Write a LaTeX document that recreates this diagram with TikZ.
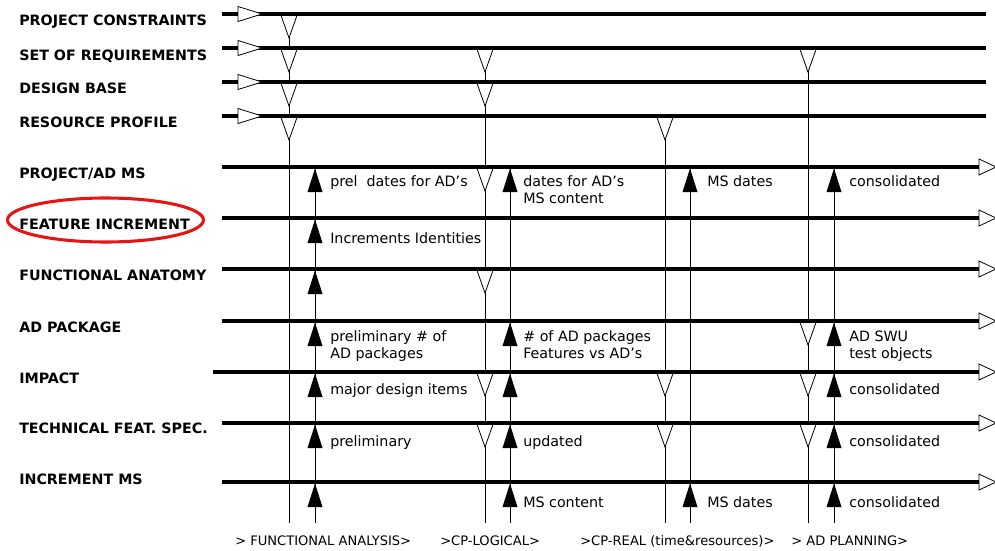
\documentclass[tikz,border=0pt]{standalone}
\usepackage{fontspec}
\setmainfont{DejaVu Sans}
\usetikzlibrary{calc,positioning}
\definecolor{ringred}{RGB}{232,20,20}

\begin{document}
\begin{tikzpicture}[x=0.75pt, y=-0.75pt,
    row/.style={line width=2.6pt},
    flow/.style={line width=0.6pt},
    lbl/.style={anchor=base west, inner sep=0pt, font=\fontsize{10.7}{13}\selectfont\bfseries},
    note/.style={anchor=base west, inner sep=0pt, align=left, font=\fontsize{10.7}{12.75}\selectfont},
    phase/.style={anchor=base west, inner sep=0pt, font=\fontsize{9.8}{11}\selectfont},
    feed/.pic={\draw[fill=white, line width=0.6pt] (-8,1.4) -- (0,24) -- (8,1.4) -- cycle;},
    yield/.pic={\fill (0,1.4) -- (-7.5,25) -- (7.5,25) -- cycle;},
    head/.pic={\draw[fill=white, line width=0.6pt] (0,-7.5) -- (24,0) -- (0,7.5) -- cycle;},
    tail/.pic={\draw[fill=white, line width=0.6pt] (0,-8) -- (17,0) -- (0,8) -- cycle;}]

    \useasboundingbox (0,0) rectangle (995,550);

    % rows
    \foreach \n/\y in {constr/14, req/48, dbase/82, resprof/116,
                       projms/167, featinc/218, funcanat/269, adpack/321,
                       techspec/423, incms/482}
        \coordinate (\n) at (222,\y);
    \coordinate (impact) at (213,372);
    \coordinate (tend) at (986,0);
    \coordinate (rend) at (979,0);

    % phase columns
    \foreach \n/\x in {fa1/289, fa2/315, lg1/485, lg2/510,
                       rl1/665, rl2/690, pl1/808, pl2/834}
        \coordinate (\n) at (\x,523);

    \node[lbl] (l-constr)   at (19,25)  {PROJECT CONSTRAINTS};
    \node[lbl] (l-req)      at (19,60)  {SET OF REQUIREMENTS};
    \node[lbl] (l-dbase)    at (19,93)  {DESIGN BASE};
    \node[lbl] (l-resprof)  at (19,127) {RESOURCE PROFILE};
    \node[lbl] (l-projms)   at (19,178) {PROJECT/AD MS};
    \node[lbl] (l-featinc)  at (19,229) {FEATURE INCREMENT};
    \node[lbl] (l-funcanat) at (19,280) {FUNCTIONAL ANATOMY};
    \node[lbl] (l-adpack)   at (19,332) {AD PACKAGE};
    \node[lbl] (l-impact)   at (19,383) {IMPACT};
    \node[lbl] (l-techspec) at (19,433) {TECHNICAL FEAT. SPEC.};
    \node[lbl] (l-incms)    at (19,484) {INCREMENT MS};

    \draw[ringred, line width=2.3pt] (105.5,220) ellipse [x radius=98, y radius=22];

    % vertical flows
    \draw[flow] (fa1 |- constr) -- (fa1);
    \draw[flow] (fa2 |- projms) -- (fa2);
    \draw[flow] (lg1 |- req) -- (lg1);
    \draw[flow] (lg2 |- projms) -- (lg2);
    \draw[flow] (rl1 |- resprof) -- (rl1);
    \draw[flow] (rl2 |- projms) -- (rl2);
    \draw[flow] (pl1 |- req) -- (pl1);
    \draw[flow] (pl2 |- projms) -- (pl2);

    \foreach \c/\r in {fa1/constr, fa1/req, fa1/dbase, fa1/resprof,
                       lg1/req, lg1/dbase, lg1/projms, lg1/funcanat, lg1/impact, lg1/techspec,
                       rl1/resprof, rl1/impact, rl1/techspec,
                       pl1/req, pl1/adpack, pl1/impact, pl1/techspec}
        \pic at (\c |- \r) {feed};

    \foreach \c/\r in {fa2/projms, fa2/featinc, fa2/funcanat, fa2/adpack, fa2/impact, fa2/techspec, fa2/incms,
                       lg2/projms, lg2/adpack, lg2/impact, lg2/techspec, lg2/incms,
                       rl2/projms, rl2/incms,
                       pl2/projms, pl2/adpack, pl2/impact, pl2/techspec, pl2/incms}
        \pic at (\c |- \r) {yield};

    % horizontal rows
    \foreach \r in {constr, req, dbase, resprof} {
        \draw[row] (\r) -- (\r -| tend);
        \pic at ($(\r)+(16,0)$) {head};
    }
    \foreach \r in {projms, featinc, funcanat, adpack, impact, techspec, incms} {
        \draw[row] (\r) -- (\r -| rend);
        \pic at (\r -| rend) {tail};
    }

    % two-line notes sit on their last baseline
    \node[note] (n-prel)    at (330,186) {prel\ \ dates for AD’s};
    \node[note] (n-dates)   at (523,203) {dates for AD’s\\MS content};
    \node[note] (n-msd1)    at (707,186) {MS dates};
    \node[note] (n-cons1)   at (849,186) {consolidated};
    \node[note] (n-incid)   at (330,243) {Increments Identities};
    \node[note] (n-prelad)  at (330,358) {preliminary \# of\\AD packages};
    \node[note] (n-numad)   at (523,358) {\# of AD packages\\Features vs AD’s};
    \node[note] (n-swu)     at (849,358) {AD SWU\\test objects};
    \node[note] (n-major)   at (330,394) {major design items};
    \node[note] (n-cons2)   at (849,394) {consolidated};
    \node[note] (n-prelim)  at (330,446) {preliminary};
    \node[note] (n-upd)     at (523,446) {updated};
    \node[note] (n-cons3)   at (849,446) {consolidated};
    \node[note] (n-msc)     at (523,507) {MS content};
    \node[note] (n-msd2)    at (707,507) {MS dates};
    \node[note] (n-cons4)   at (849,507) {consolidated};

    \node[phase] (p-fa)   at (235,545) {> FUNCTIONAL ANALYSIS>};
    \node[phase] (p-lg)   at (440,545) {>CP-LOGICAL>};
    \node[phase] (p-rl)   at (580,545) {>CP-REAL (time\&resources)>};
    \node[phase] (p-pl)   at (791,545) {> AD PLANNING>};

\end{tikzpicture}
\end{document}
